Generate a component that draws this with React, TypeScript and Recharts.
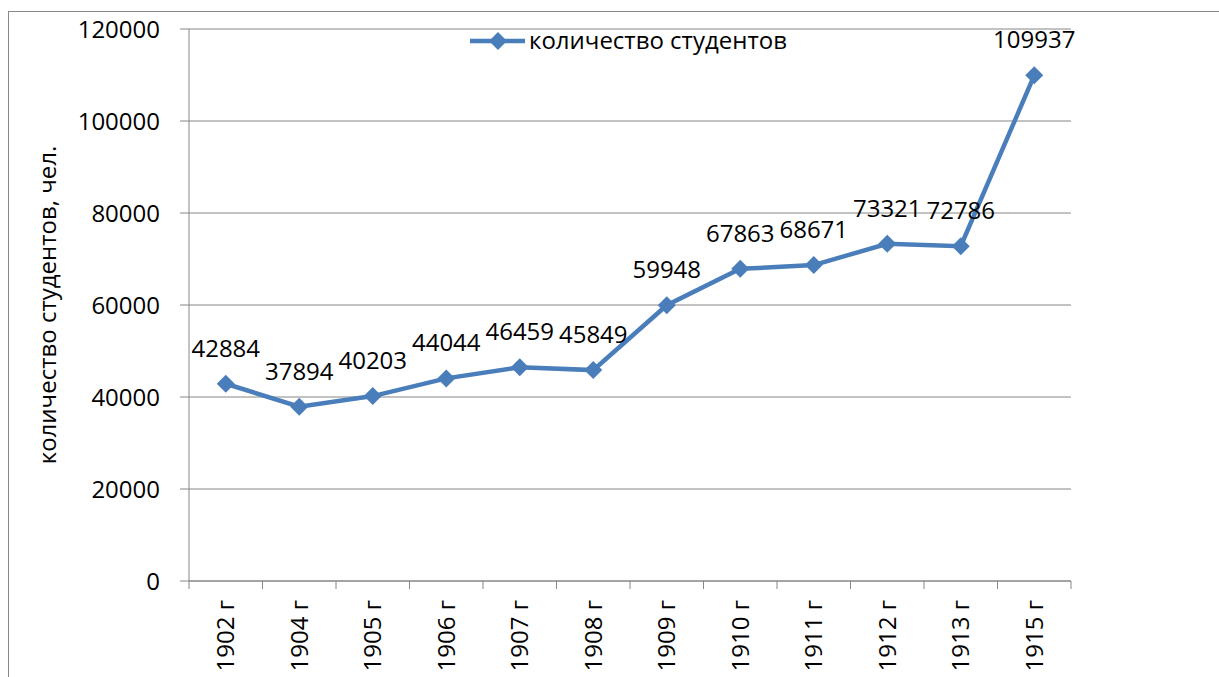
import { CartesianGrid, Label, LabelList, Legend, Line, LineChart, XAxis, YAxis } from "recharts";

const years = ["1902 г", "1904 г", "1905 г", "1906 г", "1907 г", "1908 г", "1909 г", "1910 г", "1911 г", "1912 г", "1913 г", "1915 г"];
const students = [42884, 37894, 40203, 44044, 46459, 45849, 59948, 67863, 68671, 73321, 72786, 109937];
const yTicks = [0, 20000, 40000, 60000, 80000, 100000, 120000];

const SERIES_NAME = "количество студентов";
const LINE_COLOR = "#4A7EBB";
const GRID_COLOR = "#868686";
const FONT = "'Open Sans', 'Noto Sans', sans-serif";

const data = years.map((year, i) => ({ year, students: students[i] }));

const Diamond = (props: any) => {
  const { cx, cy } = props;
  if (cx == null || cy == null) return null;
  const r = 9;
  return <polygon points={`${cx},${cy - r} ${cx + r},${cy} ${cx},${cy + r} ${cx - r},${cy}`} fill={LINE_COLOR} />;
};

const ValueLabel = (props: any) => {
  const x = props.x ?? props.viewBox?.x;
  const y = props.y ?? props.viewBox?.y;
  if (x == null || y == null) return null;
  return (
    <text x={x} y={y - 27} textAnchor="middle" fontSize={24} fontFamily={FONT} fill="#000">
      {props.value}
    </text>
  );
};

const YearTick = (props: any) => {
  const { x, y, payload, index } = props;
  const half = payload?.offset || 36.75;
  const last = index === years.length - 1;
  return (
    <g>
      <line x1={x - half} y1={y} x2={x - half} y2={y + 8} stroke={GRID_COLOR} />
      {last && <line x1={x + half} y1={y} x2={x + half} y2={y + 8} stroke={GRID_COLOR} />}
      <text
        x={x}
        y={y + 19}
        transform={`rotate(-90, ${x}, ${y + 19})`}
        textAnchor="end"
        dy="0.35em"
        fontSize={24}
        fontFamily={FONT}
        fill="#000"
      >
        {payload.value}
      </text>
    </g>
  );
};

const YTitle = (props: any) => {
  const vb = props.viewBox || { x: 0, y: 29, height: 552 };
  const cx = 48;
  const cy = vb.y + vb.height / 2;
  return (
    <text x={cx} y={cy} transform={`rotate(-90, ${cx}, ${cy})`} textAnchor="middle" dy="0.35em" fontSize={24} fontFamily={FONT} fill="#000">
      количество студентов, чел.
    </text>
  );
};

const LegendBox = () => (
  <svg width={380} height={30} style={{ display: "block", overflow: "visible" }}>
    <line x1={5} y1={15} x2={60} y2={15} stroke={LINE_COLOR} strokeWidth={4.5} />
    <polygon points="33,6 42,15 33,24 24,15" fill={LINE_COLOR} />
    <text x={64} y={15} dy="0.35em" fontSize={24} fontFamily={FONT} fill="#000">
      {SERIES_NAME}
    </text>
  </svg>
);

export default function App() {
  return (
    <div style={{ position: "absolute", left: 0, top: 0, width: 1219, height: 677, overflow: "hidden", background: "#fff" }}>
      <div
        style={{
          position: "absolute",
          left: 8,
          top: 11,
          width: 1400,
          height: 900,
          borderLeft: "1px solid #888",
          borderTop: "1px solid #888",
        }}
      />
      <div style={{ position: "absolute", left: 0, top: 0 }}>
        <LineChart width={1219} height={677} data={data} margin={{ top: 29, right: 148, left: 0, bottom: 0 }}>
          <CartesianGrid vertical={false} stroke={GRID_COLOR} />
          <XAxis
            dataKey="year"
            scale="band"
            height={96}
            stroke={GRID_COLOR}
            tickLine={false}
            tickSize={0}
            tickMargin={0}
            interval={0}
            tick={<YearTick />}
          />
          <YAxis
            width={189}
            domain={[0, 120000]}
            ticks={yTicks}
            stroke={GRID_COLOR}
            tickSize={9}
            tickMargin={20}
            tick={{ fill: "#000", fontSize: 24, fontFamily: FONT }}
          >
            <Label content={<YTitle />} />
          </YAxis>
          <Legend
            layout="horizontal"
            verticalAlign="middle"
            align="center"
            content={<LegendBox />}
            wrapperStyle={{ top: 26, left: 465, width: 380, height: 30 }}
          />
          <Line
            type="linear"
            dataKey="students"
            name={SERIES_NAME}
            stroke={LINE_COLOR}
            strokeWidth={4.5}
            dot={<Diamond />}
            activeDot={false}
            isAnimationActive={false}
          >
            <LabelList dataKey="students" content={<ValueLabel />} />
          </Line>
        </LineChart>
      </div>
    </div>
  );
}
